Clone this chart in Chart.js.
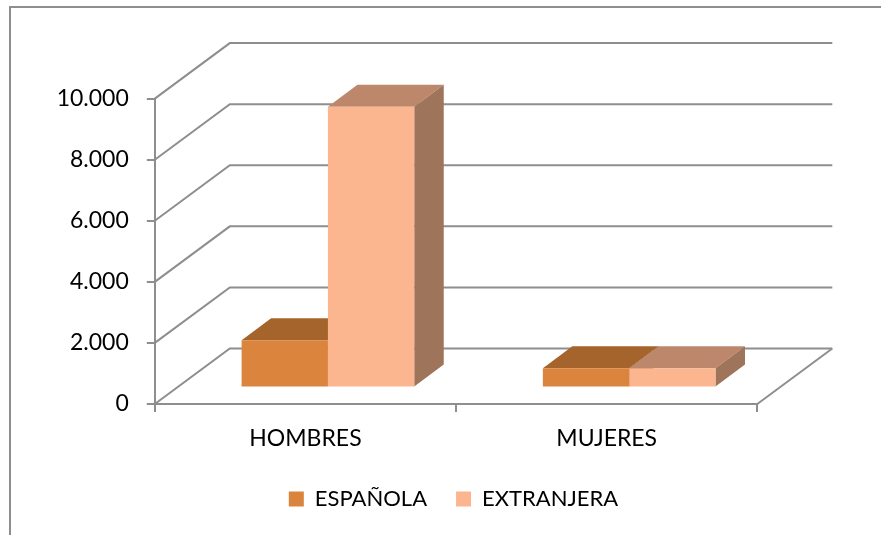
<!DOCTYPE html>
<html>
<head>
<meta charset="utf-8">
<script src="https://cdn.jsdelivr.net/npm/chart.js@4/dist/chart.umd.min.js"></script>
<style>
html,body{margin:0;padding:0;background:#fff;overflow:hidden}
#wrap{position:absolute;left:0;top:0;width:881px;height:535px}
#frame{position:absolute;left:9px;top:6px;width:880px;height:540px;border:2px solid #8e8e8e;box-sizing:border-box}
canvas{position:absolute;left:0;top:0}
</style>
</head>
<body>
<div id="wrap"><div id="frame"></div><canvas id="c" width="881" height="535"></canvas></div>
<script>
const categories = ['HOMBRES', 'MUJERES'];
const espanola = [1550, 630];
const extranjera = [9190, 630];
const seriesNames = ['ESPAÑOLA', 'EXTRANJERA'];
const frontColors = ['#DB843D', '#FBB58F'];
const topColors = ['#A6642D', '#BC876B'];
const sideColors = ['#A6642D', '#9E745B'];
const gridColor = '#8e8e8e';
const fontFamily = 'Lato';
const fontSize = 23;
const legendFontSize = 22;

const wall = {dx: 75, dy: 55.5};     // depth of the 3D box
const front = {dx: 22.5, dy: 16.5};  // how far the bar front sits behind the axis plane
const depth = {dx: 29.5, dy: 22};    // depth of each bar

const box3d = {
  id: 'box3d',
  beforeDatasetsDraw(chart) {
    const {ctx, chartArea: a, scales: {y}} = chart;
    ctx.save();
    ctx.strokeStyle = gridColor;
    ctx.lineWidth = 2;
    y.ticks.forEach(t => {
      const py = y.getPixelForValue(t.value);
      ctx.beginPath();
      ctx.moveTo(a.left, py);
      ctx.lineTo(a.left + wall.dx, py - wall.dy);
      ctx.lineTo(a.right + wall.dx, py - wall.dy);
      ctx.stroke();
    });
    const y0 = y.getPixelForValue(0);
    ctx.beginPath();
    ctx.moveTo(a.right + wall.dx, y0 - wall.dy);
    ctx.lineTo(a.right, y0);
    ctx.stroke();
    chart.getSortedVisibleDatasetMetas().forEach(meta => {
      const i = meta.index;
      meta.data.forEach(bar => {
        const l = bar.x - bar.width / 2 + front.dx, r = bar.x + bar.width / 2 + front.dx;
        const t = bar.y - front.dy, b = bar.base - front.dy;
        ctx.fillStyle = topColors[i];
        ctx.beginPath();
        ctx.moveTo(l, t); ctx.lineTo(l + depth.dx, t - depth.dy);
        ctx.lineTo(r + depth.dx, t - depth.dy); ctx.lineTo(r, t);
        ctx.closePath(); ctx.fill();
        ctx.fillStyle = sideColors[i];
        ctx.beginPath();
        ctx.moveTo(r, t); ctx.lineTo(r + depth.dx, t - depth.dy);
        ctx.lineTo(r + depth.dx, b - depth.dy); ctx.lineTo(r, b);
        ctx.closePath(); ctx.fill();
      });
    });
    ctx.restore();
  },
  beforeDatasetDraw(chart) {
    chart.ctx.save();
    chart.ctx.translate(front.dx, -front.dy);
  },
  afterDatasetDraw(chart) {
    chart.ctx.restore();
  }
};

new Chart(document.getElementById('c'), {
  type: 'bar',
  data: {
    labels: categories,
    datasets: [
      {label: seriesNames[0], data: espanola, backgroundColor: frontColors[0], clip: false},
      {label: seriesNames[1], data: extranjera, backgroundColor: frontColors[1], clip: false}
    ]
  },
  options: {
    responsive: false,
    animation: false,
    categoryPercentage: 0.573,
    barPercentage: 1,
    layout: {padding: {left: 26, right: 0, top: 98.6, bottom: 15}},
    plugins: {
      tooltip: {enabled: false},
      title: {display: false},
      legend: {
        position: 'bottom',
        labels: {
          boxWidth: 15, boxHeight: 15, padding: 29,
          color: '#000', font: {family: fontFamily, size: legendFontSize}
        }
      }
    },
    scales: {
      x: {
        afterFit(s) { s.height = 55; },
        grid: {offset: true, drawOnChartArea: false, color: gridColor, lineWidth: 2, tickLength: 8},
        border: {color: gridColor, width: 2},
        ticks: {color: '#000', padding: 13, maxRotation: 0, font: {family: fontFamily, size: fontSize}}
      },
      y: {
        min: 0, max: 10000,
        afterFit(s) { s.width = 128.8; },
        grid: {drawOnChartArea: false, color: gridColor, lineWidth: 2, tickLength: 8},
        border: {color: gridColor, width: 2},
        ticks: {
          stepSize: 2000, color: '#000', padding: 18,
          font: {family: fontFamily, size: fontSize},
          callback: v => String(v).replace(/\B(?=(\d{3})+$)/g, '.')
        }
      },
      spacer: {
        position: 'right', display: true,
        afterFit(s) { s.width = 123.7; },
        grid: {display: false}, border: {display: false},
        ticks: {display: false}
      }
    }
  },
  plugins: [box3d]
});
</script>
</body>
</html>
